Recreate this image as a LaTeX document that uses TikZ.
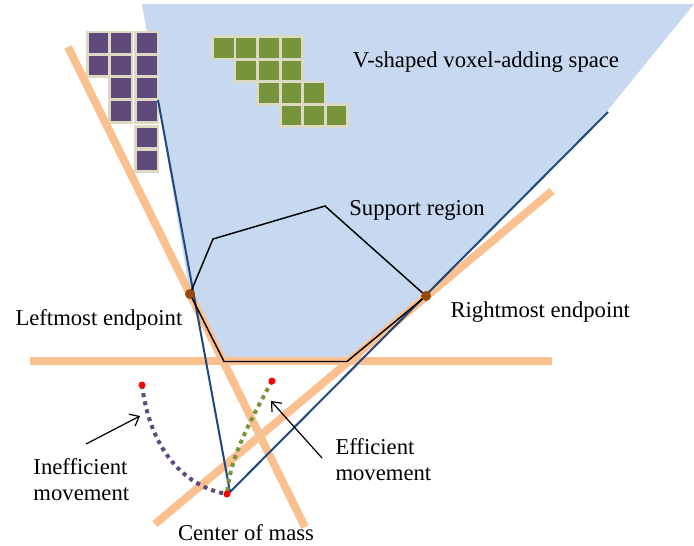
\documentclass[tikz,border=0pt]{standalone}
\usepackage{fontspec}
\setmainfont{Liberation Serif}
\usepackage{tikz}
\usetikzlibrary{arrows.meta}
\tikzset{every picture/.style={line width=0.75pt}}
\definecolor{spaceblue}{RGB}{198,217,240}
\definecolor{vblue}{RGB}{31,73,125}
\definecolor{lineorange}{RGB}{250,192,144}
\definecolor{endbrown}{RGB}{152,72,6}
\definecolor{voxpurple}{RGB}{96,74,123}
\definecolor{voxgreen}{RGB}{119,147,60}
\definecolor{voxbeige}{RGB}{221,217,195}

\begin{document}
\begin{tikzpicture}[x=0.75pt,y=0.75pt,yscale=-1,xscale=1,
	lbl/.style={font=\fontsize{17}{19.5}\selectfont, inner sep=0pt},
	orangeline/.style={draw=lineorange, line width=6pt},
	vline/.style={draw=vblue, line width=1.5pt},
	endpt/.style={fill=endbrown},
	reddot/.style={fill=red},
	movepath/.style={line width=3pt, dash pattern=on 3pt off 3.2pt},
	pointer/.style={-{Straight Barb[length=6pt,width=10pt]}, line width=0.9pt}]
	\useasboundingbox (0,0) rectangle (694,546);
	
	%named points
	\coordinate (lend) at (190,294);
	\coordinate (rend) at (426,296);
	\coordinate (com) at (227,494);
	\coordinate (apex) at (230,492);
	\coordinate (vleft) at (158,100);
	\coordinate (vright) at (608,112);
	\coordinate (ineffstart) at (142,385);
	\coordinate (effstart) at (272,381);
	
	%Shape: Polygon (voxel-adding space)
	\fill [spaceblue] (142,4) -- (694,4) -- (608,110) -- (rend) -- (347,361) -- (224,361) -- (lend) -- cycle ;
	
	%Voxels (purple)
	\foreach \c/\r in {98.3/43,120.8/43,146.7/43,98.3/65.5,120.8/65.5,146.7/65.5,120.8/87.8,146.7/87.8,120.8/111.2,146.7/111.2,146.7/137.5,146.7/160.5}
		\fill [voxbeige] ({\c-12.5},{\r-12.5}) rectangle ++(25,25) ;
	\foreach \c/\r in {98.3/43,120.8/43,146.7/43,98.3/65.5,120.8/65.5,146.7/65.5,120.8/87.8,146.7/87.8,120.8/111.2,146.7/111.2,146.7/137.5,146.7/160.5}
		\fill [voxpurple] ({\c-9.8},{\r-9.8}) rectangle ++(19.6,19.6) ;
	
	%Voxels (green)
	\foreach \i/\j in {0/0,1/0,2/0,3/0,1/1,2/1,3/1,2/2,3/2,4/2,3/3,4/3,5/3}
		\fill [voxbeige] ({223.7+22.55*\i-12.5},{47.8+22.6*\j-12.5}) rectangle ++(25,25) ;
	\foreach \i/\j in {0/0,1/0,2/0,3/0,1/1,2/1,3/1,2/2,3/2,4/2,3/3,4/3,5/3}
		\fill [voxgreen] ({223.7+22.55*\i-9.8},{47.8+22.6*\j-9.8}) rectangle ++(19.6,19.6) ;
	
	%Straight Lines (support lines)
	\draw [orangeline] (68,47) -- (305,527) ;
	\draw [orangeline] (552,191) -- (155,524) ;
	\draw [orangeline] (30,361) -- (552,361) ;
	
	%Straight Lines (V)
	\draw [vline] (vleft) -- (apex) -- (vright) ;
	
	%Shape: Polygon (support region)
	\draw [line width=1.1pt] (lend) -- (213,239) -- (325,206) -- (rend) -- (347,361.5) -- (224,361.5) -- cycle ;
	
	%Endpoints
	\fill [endpt] (lend) circle (5) ;
	\fill [endpt] (rend) circle (5) ;
	
	%Curves (movements)
	\draw [movepath, voxpurple] (ineffstart) .. controls (150,450) and (185,487) .. (com) ;
	\draw [movepath, voxgreen] (effstart) .. controls (248,425) and (230,458) .. (com) ;
	\fill [reddot] (ineffstart) circle (3.5) ;
	\fill [reddot] (effstart) circle (3.5) ;
	\fill [reddot] (com) circle (3.5) ;
	
	% Text Node
	\draw (486,62) node (spacelbl) [lbl] {V-shaped voxel-adding space};
	% Text Node
	\draw (417,210) node (supportlbl) [lbl] {Support region};
	% Text Node
	\draw (450,312) node (rightlbl) [lbl, anchor=west] {Rightmost endpoint};
	% Text Node
	\draw (15,320) node (leftlbl) [lbl, anchor=west] {Leftmost endpoint};
	% Text Node
	\draw (33,480) node (inefflbl) [lbl, anchor=west, align=left] {Inefficient\\movement};
	% Text Node
	\draw (335,460) node (efflbl) [lbl, anchor=west, align=left] {Efficient\\movement};
	% Text Node
	\draw (246,533) node (comlbl) [lbl] {Center of mass};
	
	%Arrows
	\coordinate (ineffptr) at (140,416);
	\coordinate (effptr) at (271,401);
	\draw [pointer] (86,444) -- (ineffptr) ;
	\draw [pointer] (322,458) -- (effptr) ;
	
\end{tikzpicture}
\end{document}
